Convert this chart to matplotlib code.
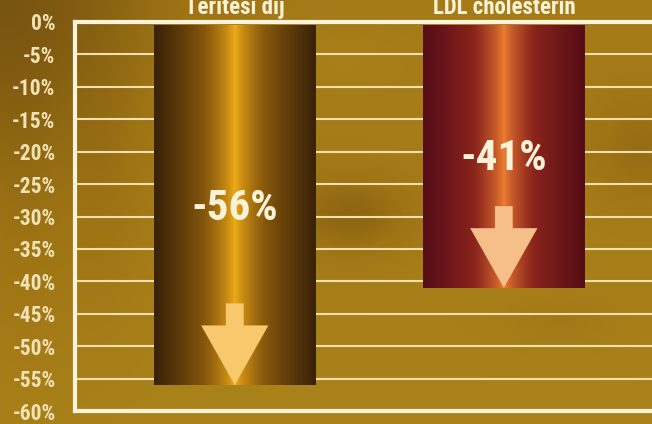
import numpy as np
import matplotlib
matplotlib.use('Agg')
import matplotlib.pyplot as plt
from matplotlib.colors import LinearSegmentedColormap
from matplotlib.patches import Polygon
import matplotlib.transforms as mtransforms

# data
categories = ['Terítési díj', 'LDL cholesterin']
values = [-56, -41]
value_labels = ['-56%', '-41%']
yticks = list(range(0, -65, -5))
ytick_labels = [f'{t}%' for t in yticks]

# colours
bar_edge_cols = ['#3a2207', '#560d16']
bar_mid_cols = ['#87580c', '#8a241c']
bar_center_cols = ['#f2ae18', '#f08232']
arrow_cols = ['#f7c86c', '#f6be88']
text_col = '#fbf2d8'
tick_col = '#f2e2b4'
grid_col = '#f1dfae'

plt.rcParams['font.family'] = ['Roboto Condensed', 'DejaVu Sans']

W, H = 652, 424
fig = plt.figure(figsize=(W / 100, H / 100), dpi=100)

# background texture (smooth, deterministic)
bg = fig.add_axes([0, 0, 1, 1], zorder=-10)
yy, xx = np.mgrid[0:H, 0:W]
def blob(cx, cy, sx, sy, a):
    return a * np.exp(-(((xx - cx) / sx) ** 2 + ((yy - cy) / sy) ** 2))
field = 0.80 + 0.12 * (yy / H)
field -= blob(0, 0, 170, 150, 0.45)
field -= blob(20, 220, 70, 160, 0.18)
field -= blob(350, 215, 70, 45, 0.35)
field -= blob(640, 150, 60, 60, 0.25)
field -= blob(560, 320, 60, 25, 0.12)
field -= blob(110, 200, 40, 120, 0.12)
field += blob(340, 60, 60, 30, 0.08)
field = np.clip(field, 0, 1)
bg_cmap = LinearSegmentedColormap.from_list('bg', ['#4a3008', '#7a5610', '#9e7414', '#ad861c'])
bg.imshow(field, cmap=bg_cmap, vmin=0, vmax=1, aspect='auto', extent=[0, W, H, 0])
bg.axis('off')

# main axes
top, bot, left = 22, 411, 75
ax = fig.add_axes([left / W, 1 - bot / H, 1 - left / W + 0.01, (bot - top) / H])
ax.patch.set_alpha(0)

x = np.arange(len(categories))
bw = 0.6
for yv in yticks[1:-1]:
    ax.axhline(yv, color=grid_col, lw=1.5, zorder=1)

prof = np.linspace(-1, 1, 200)
grad = 0.5 - 0.5 * np.sign(prof) * np.abs(prof) ** 0.7
for i, v in enumerate(values):
    cmap = LinearSegmentedColormap.from_list(
        f'b{i}', [bar_edge_cols[i], bar_mid_cols[i], bar_center_cols[i], bar_mid_cols[i], bar_edge_cols[i]])
    ax.imshow(grad[None, :], cmap=cmap, vmin=0, vmax=1, aspect='auto',
              extent=[x[i] - bw / 2, x[i] + bw / 2, v, -0.5], zorder=2, interpolation='bilinear')
    # arrow
    sw, hw = 0.033, 0.125
    hl, tl = 9.2, 12.6
    pts = [(x[i] - sw, v + tl), (x[i] + sw, v + tl), (x[i] + sw, v + hl), (x[i] + hw, v + hl),
           (x[i], v), (x[i] - hw, v + hl), (x[i] - sw, v + hl)]
    ax.add_patch(Polygon(pts, closed=True, facecolor=arrow_cols[i], edgecolor='none', zorder=3))
    ax.text(x[i], v * 0.515, value_labels[i], ha='center', va='center', color=text_col,
            fontsize=31, fontweight='bold', zorder=4)

trans = mtransforms.blended_transform_factory(ax.transData, fig.transFigure)
for i, c in enumerate(categories):
    ax.text(x[i], 1 - 14 / H, c, transform=trans, ha='center', va='baseline',
            color=text_col, fontsize=16.5, fontweight='bold', clip_on=False)

ax.set_xlim(-0.594, 1.575)
ax.set_ylim(-60, 0)
ax.set_xticks([])
ax.set_yticks(yticks)
ax.set_yticklabels(ytick_labels, color=tick_col, fontsize=15.5, fontweight='bold')
ax.tick_params(axis='y', length=0, pad=14)
for s in ['left', 'top', 'bottom']:
    ax.spines[s].set_color('#fbf3dc')
    ax.spines[s].set_linewidth(3)
ax.spines['right'].set_visible(False)

fig.savefig('out.png', dpi=100)
